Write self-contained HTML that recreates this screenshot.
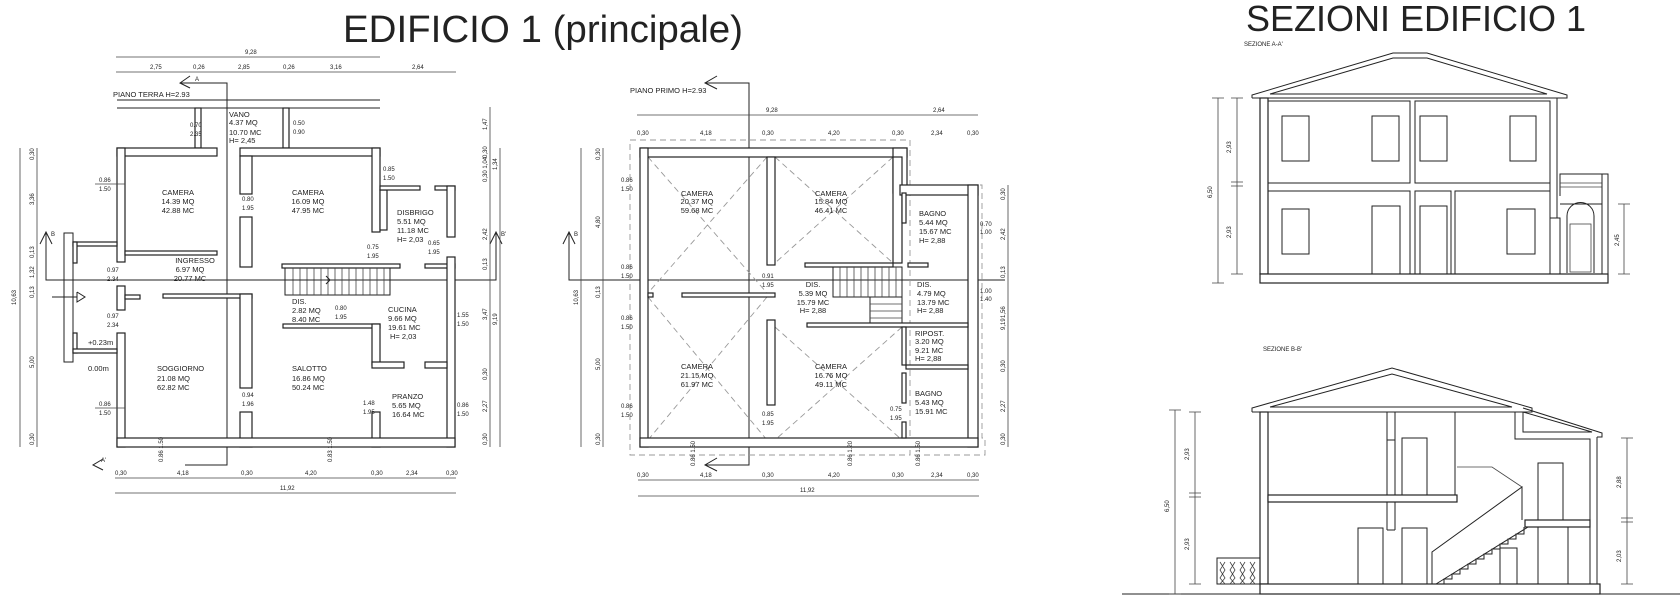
<!DOCTYPE html>
<html><head><meta charset="utf-8"><style>
html,body{margin:0;padding:0;background:#fff}
svg{display:block}
.w{fill:#fff;stroke:#222;stroke-width:1.2}
.l{stroke:#222;stroke-width:1;fill:none}
.t{stroke:#444;stroke-width:.8;fill:none}
.d{stroke:#999;stroke-width:.9;fill:none;stroke-dasharray:6,4}
text{font-family:"Liberation Sans",sans-serif;fill:#222}
.s{font-size:7.5px}
.m{font-size:6px}
</style></head><body>
<svg width="1680" height="607" viewBox="0 0 1680 607" xmlns="http://www.w3.org/2000/svg">
<!-- Titles -->
<text x="343" y="42" font-size="38" textLength="400" lengthAdjust="spacingAndGlyphs">EDIFICIO 1 (principale)</text>
<text x="1246" y="31" font-size="36" textLength="340" lengthAdjust="spacingAndGlyphs">SEZIONI EDIFICIO 1</text>

<!-- ================= PLAN 1 ================= -->
<g>
<line class="t" x1="116" y1="57" x2="380" y2="57"/><text class="m" x="245" y="54">9,28</text>
<line class="t" x1="116" y1="72" x2="456" y2="72"/>
<text class="m" x="150" y="69">2,75</text><text class="m" x="193" y="69">0,26</text><text class="m" x="238" y="69">2,85</text><text class="m" x="283" y="69">0,26</text><text class="m" x="330" y="69">3,16</text><text class="m" x="412" y="69">2,64</text>
<!-- section A -->
<polyline class="l" points="180,83 227,83 227,465 185,465"/>
<polyline class="l" points="190,76 180,83 190,88"/><text class="m" x="195" y="81">A</text>
<polyline class="l" points="103,459 93,465 103,470"/><text class="m" x="101" y="462">A'</text>
<text class="s" x="113" y="97">PIANO TERRA H=2.93</text>
<line class="l" x1="117" y1="100" x2="380" y2="100"/><line class="l" x1="117" y1="108" x2="380" y2="108"/>
<!-- section B line -->
<polyline class="l" points="46,232 46,280 496,280 496,232"/>
<polyline class="l" points="40,244 46,232 52,244"/><polyline class="l" points="490,244 496,232 502,244"/>
<text class="m" x="51" y="236">B</text><text class="m" x="501" y="236">B'</text>
<!-- walls -->
<rect class="w" x="195" y="108" width="6" height="40"/><rect class="w" x="283" y="108" width="6" height="40"/>
<rect class="w" x="117" y="148" width="100" height="8"/><rect class="w" x="240" y="148" width="140" height="8"/>
<rect class="w" x="117" y="148" width="8" height="114"/><rect class="w" x="117" y="286" width="8" height="24"/><rect class="w" x="125" y="295" width="15" height="4"/><rect class="w" x="117" y="333" width="8" height="114"/>
<rect class="w" x="125" y="251" width="92" height="4"/>
<rect class="w" x="240" y="156" width="12" height="38"/><rect class="w" x="240" y="217" width="12" height="50"/>
<rect class="w" x="73" y="242" width="44" height="4"/><rect class="w" x="73" y="242" width="4" height="21"/>
<rect class="w" x="73" y="333" width="4" height="20"/><rect class="w" x="73" y="349" width="44" height="4"/>
<rect class="l" x="64" y="233" width="9" height="129"/>
<rect class="w" x="163" y="294" width="89" height="4"/>
<rect class="w" x="240" y="294" width="12" height="94"/><rect class="w" x="240" y="412" width="12" height="35"/>
<rect class="w" x="283" y="324" width="97" height="4"/>
<rect class="w" x="372" y="148" width="8" height="84"/><rect class="w" x="380" y="190" width="7" height="40"/>
<rect class="w" x="380" y="186" width="40" height="4"/><rect class="w" x="435" y="186" width="20" height="4"/>
<rect class="w" x="447" y="186" width="8" height="51"/>
<rect class="w" x="282" y="264" width="118" height="4"/><rect class="w" x="425" y="264" width="30" height="4"/>
<rect class="w" x="447" y="257" width="8" height="190"/>
<rect class="w" x="372" y="324" width="8" height="41"/><rect class="w" x="372" y="362" width="32" height="6"/><rect class="w" x="425" y="362" width="22" height="6"/><rect class="w" x="372" y="412" width="8" height="35"/>
<rect class="w" x="117" y="438" width="338" height="9"/>
<!-- stairs -->
<rect class="l" x="285" y="268" width="105" height="27"/>
<path class="t" d="M293 268v27M300 268v27M307 268v27M314 268v27M321 268v27M328 268v27M335 268v27M342 268v27M349 268v27M356 268v27M363 268v27M370 268v27M377 268v27M384 268v27"/>
<line class="l" x1="288" y1="280" x2="330" y2="280"/><polyline class="l" points="326,276 330,280 326,284"/>
<path class="l" d="M52 297h25" stroke-width="3"/><polyline class="l" points="77,292 85,297 77,302 77,292"/>
<!-- room labels -->
<g class="s" text-anchor="middle">
<text x="178" y="195">CAMERA</text><text x="178" y="204">14.39 MQ</text><text x="178" y="213">42.88 MC</text>
<text x="308" y="195">CAMERA</text><text x="308" y="204">16.09 MQ</text><text x="308" y="213">47.95 MC</text>
<text x="195" y="263">INGRESSO</text><text x="190" y="272">6.97 MQ</text><text x="190" y="281">20.77 MC</text>
</g>
<g class="s">
<text x="229" y="117">VANO</text><text x="229" y="125">4.37 MQ</text><text x="229" y="135">10.70 MC</text><text x="229" y="143">H= 2,45</text>
<text x="397" y="215">DISBRIGO</text><text x="397" y="224">5.51 MQ</text><text x="397" y="233">11.18 MC</text><text x="397" y="242">H= 2,03</text>
<text x="292" y="304">DIS.</text><text x="292" y="313">2.82 MQ</text><text x="292" y="322">8.40 MC</text>
<text x="388" y="312">CUCINA</text><text x="388" y="321">9.66 MQ</text><text x="388" y="330">19.61 MC</text><text x="390" y="339">H= 2,03</text>
<text x="157" y="371">SOGGIORNO</text><text x="157" y="381">21.08 MQ</text><text x="157" y="390">62.82 MC</text>
<text x="292" y="371">SALOTTO</text><text x="292" y="381">16.86 MQ</text><text x="292" y="390">50.24 MC</text>
<text x="392" y="399">PRANZO</text><text x="392" y="408">5.65 MQ</text><text x="392" y="417">16.64 MC</text>
<text x="88" y="345">+0.23m</text><text x="88" y="371">0.00m</text>
</g>
<g class="m">
<text x="99" y="182">0.86</text><text x="99" y="191">1.50</text><line class="t" x1="95" y1="184" x2="125" y2="184"/>
<text x="99" y="406">0.86</text><text x="99" y="415">1.50</text><line class="t" x1="95" y1="408" x2="125" y2="408"/>
<text x="107" y="272">0.97</text><text x="107" y="281">2.34</text>
<text x="107" y="318">0.97</text><text x="107" y="327">2.34</text>
<text x="190" y="127">0.70</text><text x="190" y="136">2.35</text>
<text x="293" y="125">0.50</text><text x="293" y="134">0.90</text>
<text x="242" y="201">0.80</text><text x="242" y="210">1.95</text>
<text x="242" y="397">0.94</text><text x="242" y="406">1.96</text>
<text x="383" y="171">0.85</text><text x="383" y="180">1.50</text>
<text x="367" y="249">0.75</text><text x="367" y="258">1.95</text>
<text x="428" y="245">0.65</text><text x="428" y="254">1.95</text>
<text x="335" y="310">0.80</text><text x="335" y="319">1.95</text>
<text x="363" y="405">1.48</text><text x="363" y="414">1.95</text>
<text x="457" y="317">1.55</text><text x="457" y="326">1.50</text>
<text x="457" y="407">0.86</text><text x="457" y="416">1.50</text>
</g>
<!-- left dims -->
<line class="t" x1="20" y1="148" x2="20" y2="447"/><line class="t" x1="37" y1="148" x2="37" y2="447"/>
<g class="m">
<text transform="translate(16,305) rotate(-90)">10,63</text>
<text transform="translate(34,160) rotate(-90)">0,30</text><text transform="translate(34,205) rotate(-90)">3,36</text>
<text transform="translate(34,258) rotate(-90)">0,13</text><text transform="translate(34,278) rotate(-90)">1,32</text><text transform="translate(34,298) rotate(-90)">0,13</text>
<text transform="translate(34,368) rotate(-90)">5,00</text><text transform="translate(34,445) rotate(-90)">0,30</text>
</g>
<!-- right dims -->
<line class="t" x1="490" y1="107" x2="490" y2="447"/><line class="t" x1="500" y1="148" x2="500" y2="447"/>
<g class="m">
<text transform="translate(487,130) rotate(-90)">1,47</text><text transform="translate(487,158) rotate(-90)">0,30</text><text transform="translate(487,182) rotate(-90)">0,30 1,04</text>
<text transform="translate(487,240) rotate(-90)">2,42</text><text transform="translate(487,270) rotate(-90)">0,13</text>
<text transform="translate(487,320) rotate(-90)">3,47</text><text transform="translate(487,380) rotate(-90)">0,30</text><text transform="translate(487,412) rotate(-90)">2,27</text><text transform="translate(487,445) rotate(-90)">0,30</text>
<text transform="translate(497,170) rotate(-90)">1,34</text><text transform="translate(497,325) rotate(-90)">9,19</text>
</g>
<!-- bottom dims -->
<line class="t" x1="115" y1="478" x2="456" y2="478"/><line class="t" x1="115" y1="493" x2="456" y2="493"/>
<g class="m"><text x="115" y="475">0,30</text><text x="177" y="475">4,18</text><text x="241" y="475">0,30</text><text x="305" y="475">4,20</text><text x="371" y="475">0,30</text><text x="406" y="475">2,34</text><text x="446" y="475">0,30</text><text x="280" y="490">11,92</text>
<text transform="translate(163,462) rotate(-90)">0.86 1.50</text><text transform="translate(332,462) rotate(-90)">0.83 1.50</text></g>
</g>

<!-- ================= PLAN 2 ================= -->
<g>
<text class="s" x="630" y="93">PIANO PRIMO H=2.93</text>
<polyline class="l" points="705,83 749,83 749,465 705,465"/>
<polyline class="l" points="717,76 705,83 717,89"/><polyline class="l" points="717,458 705,465 717,471"/>
<polyline class="l" points="569,232 569,280 1005,280"/><polyline class="l" points="563,244 569,232 575,244"/><text class="m" x="574" y="236">B</text>
<line class="t" x1="637" y1="115" x2="904" y2="115"/><line class="t" x1="904" y1="115" x2="978" y2="115"/>
<text class="m" x="766" y="112">9,28</text><text class="m" x="933" y="112">2,64</text>
<g class="m"><text x="637" y="135">0,30</text><text x="700" y="135">4,18</text><text x="762" y="135">0,30</text><text x="828" y="135">4,20</text><text x="892" y="135">0,30</text><text x="931" y="135">2,34</text><text x="967" y="135">0,30</text></g>
<rect class="d" x="630" y="140" width="280" height="315"/>
<polyline class="d" points="910,185 982,185 982,438 985,438 985,455 910,455"/>
<!-- diagonals -->
<path class="d" d="M648 157L767 293M767 157L648 293M775 157L893 263M893 157L775 263M648 297L767 440M767 297L648 440M775 327L902 440M902 327L775 440"/>
<!-- walls -->
<rect class="w" x="640" y="148" width="267" height="9"/>
<rect class="w" x="640" y="148" width="8" height="299"/>
<rect class="w" x="893" y="148" width="14" height="45"/><rect class="w" x="893" y="157" width="9" height="106"/>
<rect class="w" x="900" y="185" width="78" height="10"/>
<rect class="w" x="968" y="185" width="10" height="262"/>
<rect class="w" x="640" y="438" width="338" height="9"/>
<rect class="w" x="767" y="157" width="8" height="108"/><rect class="w" x="767" y="320" width="8" height="85"/>
<rect class="w" x="805" y="263" width="88" height="4"/><rect class="w" x="908" y="263" width="20" height="4"/>
<rect class="w" x="648" y="293" width="5" height="4"/><rect class="w" x="682" y="293" width="93" height="4"/>
<rect class="w" x="807" y="323" width="161" height="4"/>
<rect class="w" x="902" y="193" width="4" height="30"/><rect class="w" x="902" y="327" width="4" height="38"/><rect class="w" x="902" y="373" width="4" height="30"/><rect class="w" x="902" y="422" width="4" height="16"/>
<rect class="w" x="906" y="365" width="62" height="4"/>
<!-- stairs -->
<rect class="l" x="833" y="267" width="69" height="30"/><rect class="l" x="870" y="297" width="32" height="26"/>
<path class="t" d="M840 267v30M847 267v30M854 267v30M861 267v30M868 267v30M875 267v30M882 267v30M889 267v30M896 267v30M870 304h32M870 311h32M870 318h32"/>
<g class="s" text-anchor="middle">
<text x="697" y="196">CAMERA</text><text x="697" y="204">20.37 MQ</text><text x="697" y="213">59.68 MC</text>
<text x="831" y="196">CAMERA</text><text x="831" y="204">15.84 MQ</text><text x="831" y="213">46.41 MC</text>
<text x="813" y="287">DIS.</text><text x="813" y="296">5.39 MQ</text><text x="813" y="305">15.79 MC</text><text x="813" y="313">H= 2,88</text>
<text x="697" y="369">CAMERA</text><text x="697" y="378">21.15 MQ</text><text x="697" y="387">61.97 MC</text>
<text x="831" y="369">CAMERA</text><text x="831" y="378">16.76 MQ</text><text x="831" y="387">49.11 MC</text>
</g>
<g class="s">
<text x="919" y="216">BAGNO</text><text x="919" y="225">5.44 MQ</text><text x="919" y="234">15.67 MC</text><text x="919" y="243">H= 2,88</text>
<text x="917" y="287">DIS.</text><text x="917" y="296">4.79 MQ</text><text x="917" y="305">13.79 MC</text><text x="917" y="313">H= 2,88</text>
<text x="915" y="336">RIPOST.</text><text x="915" y="344">3.20 MQ</text><text x="915" y="353">9.21 MC</text><text x="915" y="361">H= 2,88</text>
<text x="915" y="396">BAGNO</text><text x="915" y="405">5.43 MQ</text><text x="915" y="414">15.91 MC</text>
</g>
<g class="m">
<text x="621" y="182">0.86</text><text x="621" y="191">1.50</text>
<text x="621" y="269">0.86</text><text x="621" y="278">1.50</text>
<text x="621" y="320">0.86</text><text x="621" y="329">1.50</text>
<text x="621" y="408">0.86</text><text x="621" y="417">1.50</text>
<text x="762" y="278">0.91</text><text x="762" y="287">1.95</text>
<text x="762" y="416">0.85</text><text x="762" y="425">1.95</text>
<text x="890" y="411">0.75</text><text x="890" y="420">1.95</text>
<text x="980" y="226">0.70</text><text x="980" y="234">1.00</text>
<text x="980" y="293">1.00</text><text x="980" y="301">1.40</text>
</g>
<line class="t" x1="581" y1="148" x2="581" y2="447"/><line class="t" x1="603" y1="148" x2="603" y2="447"/>
<g class="m">
<text transform="translate(578,305) rotate(-90)">10,63</text>
<text transform="translate(600,160) rotate(-90)">0,30</text><text transform="translate(600,228) rotate(-90)">4,80</text><text transform="translate(600,298) rotate(-90)">0,13</text><text transform="translate(600,370) rotate(-90)">5,00</text><text transform="translate(600,445) rotate(-90)">0,30</text>
</g>
<line class="t" x1="1008" y1="185" x2="1008" y2="447"/>
<g class="m">
<text transform="translate(1005,200) rotate(-90)">0,30</text><text transform="translate(1005,240) rotate(-90)">2,42</text><text transform="translate(1005,278) rotate(-90)">0,13</text><text transform="translate(1005,318) rotate(-90)">1,56</text><text transform="translate(1005,330) rotate(-90)">9,19</text><text transform="translate(1005,372) rotate(-90)">0,30</text><text transform="translate(1005,412) rotate(-90)">2,27</text><text transform="translate(1005,445) rotate(-90)">0,30</text>
</g>
<line class="t" x1="638" y1="480" x2="979" y2="480"/><line class="t" x1="638" y1="496" x2="979" y2="496"/>
<g class="m"><text x="637" y="477">0,30</text><text x="700" y="477">4,18</text><text x="762" y="477">0,30</text><text x="828" y="477">4,20</text><text x="892" y="477">0,30</text><text x="931" y="477">2,34</text><text x="967" y="477">0,30</text><text x="800" y="492">11,92</text>
<text transform="translate(695,466) rotate(-90)">0.86 1.50</text><text transform="translate(852,466) rotate(-90)">0.86 1.20</text><text transform="translate(920,466) rotate(-90)">0.86 1.50</text></g>
</g>

<!-- ================= SECTION A-A' ================= -->
<g>
<text class="m" x="1244" y="46">SEZIONE A-A'</text>
<polyline class="l" points="1252,98 1252,95 1393,53 1427,53 1567,95 1567,98 1252,98"/>
<polyline class="l" points="1270,94 1393,58 1427,58 1547,94 1270,94"/>
<rect class="w" x="1260" y="98" width="8" height="176"/>
<rect class="w" x="1260" y="274" width="348" height="9"/>
<rect class="l" x="1268" y="101" width="142" height="82"/><rect class="l" x="1415" y="101" width="135" height="82"/>
<rect class="l" x="1268" y="191" width="142" height="83"/><rect class="l" x="1415" y="191" width="36" height="83"/><rect class="l" x="1455" y="191" width="95" height="83"/>
<line class="l" x1="1557" y1="98" x2="1557" y2="218"/><polyline class="l" points="1550,183 1550,218 1560,218 1560,274"/>
<polyline class="l" points="1560,196 1560,174 1608,174 1608,274"/><line class="t" x1="1560" y1="183" x2="1602" y2="183"/><line class="t" x1="1560" y1="187" x2="1602" y2="187"/><line class="l" x1="1560" y1="204" x2="1602" y2="204"/><line class="l" x1="1602" y1="174" x2="1602" y2="274"/>
<path class="l" d="M1567 273V216a13 13 0 0 1 27 0V273"/><rect class="t" x="1570" y="224" width="21" height="48"/>
<g class="l" stroke-width="1.4">
<rect x="1282" y="116" width="27" height="45"/><rect x="1372" y="116" width="27" height="45"/><rect x="1420" y="116" width="27" height="45"/><rect x="1510" y="116" width="26" height="45"/>
<rect x="1282" y="209" width="27" height="45"/><rect x="1507" y="209" width="28" height="45"/>
<rect x="1372" y="206" width="28" height="68"/><rect x="1420" y="206" width="27" height="68"/>
</g>
<line class="t" x1="1218" y1="98" x2="1218" y2="283"/><line class="t" x1="1237" y1="98" x2="1237" y2="274"/>
<path class="t" d="M1212 98h12M1212 283h12M1231 98h12M1231 182h12M1231 186h12M1231 274h12M1618 204h12M1618 274h12"/>
<line class="t" x1="1624" y1="204" x2="1624" y2="274"/>
<g class="m"><text transform="translate(1212,198) rotate(-90)">6,50</text><text transform="translate(1231,153) rotate(-90)">2,93</text><text transform="translate(1231,238) rotate(-90)">2,93</text><text transform="translate(1619,246) rotate(-90)">2,45</text></g>
</g>

<!-- ================= SECTION B-B' ================= -->
<g>
<text class="m" x="1263" y="351">SEZIONE B-B'</text>
<polyline class="l" points="1252,412 1252,408 1392,368 1532,408 1532,412 1252,412"/>
<polyline class="l" points="1270,407 1392,374 1512,407 1270,407"/>
<polyline class="l" points="1523,408 1602,433 1602,437 1597,437"/>
<polyline class="l" points="1523,412 1523,432 1592,432 1523,412"/>
<rect class="w" x="1260" y="412" width="8" height="172"/>
<rect class="w" x="1260" y="584" width="340" height="10"/>
<line class="l" x1="1122" y1="594" x2="1680" y2="594"/>
<rect class="l" x="1268" y="412" width="119" height="83"/><rect class="l" x="1395" y="412" width="60" height="83"/>
<rect class="w" x="1268" y="495" width="189" height="7"/>
<polyline class="l" points="1457,412 1515,412 1515,439 1590,439 1590,584"/>
<polyline class="l" points="1597,437 1597,584"/>
<line class="l" x1="1387" y1="412" x2="1387" y2="440"/><line class="l" x1="1395" y1="412" x2="1395" y2="440"/><line class="l" x1="1387" y1="440" x2="1395" y2="440"/>
<line class="l" x1="1387" y1="502" x2="1387" y2="530"/><line class="l" x1="1395" y1="502" x2="1395" y2="530"/><line class="l" x1="1387" y1="530" x2="1395" y2="530"/>
<rect class="w" x="1525" y="520" width="65" height="7"/>
<line class="l" x1="1268" y1="502" x2="1268" y2="584"/>
<!-- stairs -->
<polyline class="l" points="1432,584 1432,552 1522,487 1522,520"/>
<polyline class="l" points="1436,584 1444,584 1444,579 1452,579 1452,574 1460,574 1460,569 1468,569 1468,564 1476,564 1476,559 1484,559 1484,554 1492,554 1492,549 1500,549 1500,544 1508,544 1508,539 1516,539 1516,534 1524,534 1524,527"/>
<line class="l" x1="1436" y1="584" x2="1528" y2="527"/>
<polyline class="t" points="1457,467 1492,467 1522,487"/>
<g class="l" stroke-width="1.4">
<rect x="1402" y="438" width="25" height="57"/><rect x="1538" y="463" width="25" height="57"/>
<rect x="1358" y="528" width="25" height="56"/><rect x="1402" y="528" width="25" height="56"/><rect x="1500" y="548" width="17" height="36"/><rect x="1538" y="527" width="30" height="57"/>
</g>
<rect class="l" x="1217" y="558" width="43" height="26"/>
<path class="t" d="M1220 562l5 8-5 8 5 6M1225 562l-5 8 5 8-5 6M1230 562l5 8-5 8 5 6M1235 562l-5 8 5 8-5 6M1240 562l5 8-5 8 5 6M1245 562l-5 8 5 8-5 6M1250 562l5 8-5 8 5 6M1255 562l-5 8 5 8-5 6"/>
<line class="t" x1="1175" y1="410" x2="1175" y2="594"/><line class="t" x1="1195" y1="412" x2="1195" y2="584"/>
<path class="t" d="M1169 410h12M1169 594h12M1189 412h12M1189 493h12M1189 497h12M1189 584h12M1621 438h12M1621 518h12M1621 522h12M1621 584h12"/>
<line class="t" x1="1627" y1="438" x2="1627" y2="584"/>
<g class="m"><text transform="translate(1169,512) rotate(-90)">6,50</text><text transform="translate(1189,460) rotate(-90)">2,93</text><text transform="translate(1189,550) rotate(-90)">2,93</text><text transform="translate(1621,488) rotate(-90)">2,88</text><text transform="translate(1621,562) rotate(-90)">2,03</text></g>
</g>
</svg>
</body></html>
